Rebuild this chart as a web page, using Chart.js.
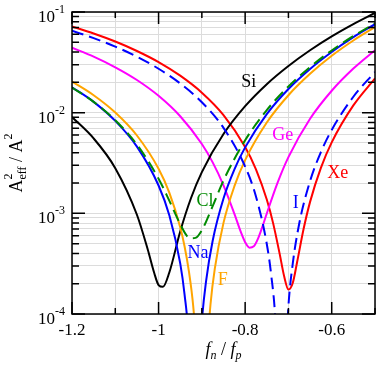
<!DOCTYPE html>
<html>
<head>
<meta charset="utf-8">
<script src="https://cdn.jsdelivr.net/npm/chart.js@4.4.1/dist/chart.umd.min.js"></script>
<style>
  html, body { margin: 0; padding: 0; background: #fff; }
  #chart { display: block; }
</style>
</head>
<body>
<canvas id="chart" width="378" height="366"></canvas>
<script>
// values, y = A_eff^2 / A^2
const siX = [-1.2, -1.15, -1.1, -1.05, -1.025, -1.01, -1.0, -0.99, -0.975, -0.95, -0.925, -0.9, -0.85, -0.8, -0.75, -0.7, -0.65, -0.6, -0.55, -0.5];
const siY = [0.00905, 0.00555, 0.00281, 0.000968, 0.000437, 0.000255, 0.000194, 0.000186, 0.00026, 0.000661, 0.00142, 0.00257, 0.00613, 0.0116, 0.0192, 0.0291, 0.0417, 0.0573, 0.0759, 0.098];

const geX = [-1.2, -1.15, -1.1, -1.05, -1.0, -0.95, -0.9, -0.875, -0.85, -0.825, -0.81, -0.8, -0.79, -0.78, -0.77, -0.76, -0.75, -0.725, -0.7, -0.65, -0.6, -0.55, -0.5];
const geY = [0.0442, 0.0360, 0.0282, 0.0211, 0.0147, 0.00921, 0.00488, 0.00321, 0.0019, 0.000993, 0.000653, 0.000517, 0.000456, 0.00047, 0.000564, 0.000739, 0.000997, 0.00202, 0.00362, 0.0087, 0.0165, 0.0274, 0.0417];

const xeX = [-1.2, -1.15, -1.1, -1.05, -1.0, -0.95, -0.9, -0.85, -0.8, -0.775, -0.75, -0.735, -0.72, -0.71, -0.7, -0.69, -0.68, -0.665, -0.65, -0.625, -0.6, -0.55, -0.5];
const xeY = [0.0718, 0.0612, 0.0509, 0.0410, 0.0318, 0.0233, 0.0158, 0.00947, 0.00457, 0.00274, 0.00137, 0.000786, 0.000391, 0.000238, 0.000175, 0.000203, 0.000327, 0.000698, 0.0013, 0.00283, 0.00507, 0.0118, 0.0219];

const iX = [-1.2, -1.15, -1.1, -1.05, -1.0, -0.95, -0.9, -0.85, -0.8, -0.775, -0.75, -0.74, -0.73, -0.72, -0.71, -0.7, -0.69, -0.675, -0.65, -0.625, -0.6, -0.55, -0.5];
const iY = [0.0651, 0.0550, 0.0453, 0.0360, 0.0273, 0.0195, 0.0127, 0.00706, 0.00291, 0.00147, 0.000496, 0.000248, 0.0000842, 0.0000064, 0.0000174, 0.00012, 0.000316, 0.000792, 0.00209, 0.00406, 0.00674, 0.0144, 0.0254];

const clX = [-1.2, -1.15, -1.1, -1.05, -1.0, -0.975, -0.95, -0.935, -0.925, -0.915, -0.9, -0.875, -0.85, -0.8, -0.75, -0.7, -0.65, -0.6, -0.55, -0.5];
const clY = [0.0178, 0.0128, 0.0084, 0.00482, 0.00221, 0.00133, 0.00078, 0.0006, 0.000565, 0.00057, 0.00068, 0.00118, 0.00212, 0.00532, 0.0106, 0.0182, 0.0284, 0.0415, 0.0577, 0.0772];

const naX = [-1.2, -1.15, -1.1, -1.05, -1.0, -0.975, -0.95, -0.94, -0.93, -0.92, -0.91, -0.9, -0.89, -0.875, -0.85, -0.825, -0.8, -0.75, -0.7, -0.65, -0.6, -0.55, -0.5];
const naY = [0.0179, 0.0128, 0.00828, 0.0046, 0.00189, 0.00095, 0.000318, 0.000157, 0.0000519, 0.0000032, 0.0000132, 0.0000836, 0.000216, 0.000535, 0.001405, 0.00272, 0.00452, 0.00968, 0.0172, 0.0272, 0.0401, 0.0562, 0.0756];

const fX = [-1.2, -1.15, -1.1, -1.05, -1.0, -0.975, -0.95, -0.94, -0.93, -0.92, -0.91, -0.9, -0.89, -0.88, -0.87, -0.85, -0.825, -0.8, -0.75, -0.7, -0.65, -0.6, -0.55, -0.5];
const fY = [0.0204, 0.0149, 0.01003, 0.00593, 0.00277, 0.0016, 0.000728, 0.000471, 0.000267, 0.00012, 0.0000303, 0.000003, 0.0000309, 0.000125, 0.000284, 0.000804, 0.00185, 0.00338, 0.00798, 0.0149, 0.0243, 0.0367, 0.0521, 0.0709];

// curve labels (data coords of the text centre)
const tagNames = ['Si', 'Ge', 'Xe', 'I', 'Cl', 'Na', 'F'];
const tagX = [-0.7915, -0.713, -0.586, -0.683, -0.893, -0.909, -0.8515];
const tagY = [0.0207, 0.00607, 0.0026, 0.0013, 0.00136, 0.000413, 0.000223];
const tagColors = ['#000000', '#ff00ff', '#ff0000', '#0000ff', '#008b00', '#0000ff', '#ffa500'];

// axes
const xGrid = [-1.2, -1.1, -1.0, -0.9, -0.8, -0.7, -0.6, -0.5];
const xLabelVals = [-1.2, -1.0, -0.8, -0.6];
const xLabelText = ['-1.2', '-1', '-0.8', '-0.6'];
const yDecades = [1e-4, 1e-3, 1e-2, 1e-1];
const yLabelExp = ['-4', '-3', '-2', '-1'];

const SERIF = "'Liberation Serif', 'Times New Roman', serif";

let yMinor = [];
for (let i = 0; i < yDecades.length - 1; i++) {
    for (let m = 2; m <= 9; m++) yMinor.push(m * yDecades[i]);
}
const yGrid = yDecades.concat(yMinor).sort((a, b) => a - b);

function pts(xs, ys) {
    return xs.map((x, i) => ({ x: x, y: ys[i] }));
}

function curve(xs, ys, color, dashed) {
    return {
        data: pts(xs, ys),
        borderColor: color,
        borderWidth: 2,
        borderDash: dashed ? [12, 6] : [],
        pointRadius: 0,
        fill: false,
        cubicInterpolationMode: 'monotone'
    };
}

// draws a run of text pieces, each piece {t, font, dy, skip}
function richText(ctx, pieces, x, y, align) {
    let total = 0;
    pieces.forEach(p => {
        ctx.font = p.font;
        p.w = ctx.measureText(p.t).width;
        if (!p.skip) total += p.adv !== undefined ? p.adv : p.w;
    });
    let cx = align === 'center' ? x - total / 2 : x;
    ctx.textAlign = 'left';
    ctx.textBaseline = 'alphabetic';
    pieces.forEach(p => {
        ctx.font = p.font;
        ctx.fillText(p.t, cx, y + (p.dy || 0));
        if (!p.skip) cx += p.adv !== undefined ? p.adv : p.w;
    });
}

const framePlugin = {
    id: 'frame',
    afterDraw(chart) {
        const ctx = chart.ctx;
        const a = chart.chartArea;
        const sx = chart.scales.x;
        const sy = chart.scales.y;
        ctx.save();

        // curve tags
        ctx.textAlign = 'center';
        ctx.textBaseline = 'alphabetic';
        ctx.font = '18px ' + SERIF;
        tagNames.forEach((t, i) => {
            ctx.fillStyle = tagColors[i];
            ctx.fillText(t, sx.getPixelForValue(tagX[i]), sy.getPixelForValue(tagY[i]) + 6);
        });

        // frame
        ctx.strokeStyle = '#000';
        ctx.lineWidth = 1.5;
        ctx.strokeRect(a.left, a.top, a.right - a.left, a.bottom - a.top);

        // inward ticks on all four sides
        ctx.beginPath();
        xGrid.forEach(v => {
            const px = sx.getPixelForValue(v);
            const len = xLabelVals.some(u => Math.abs(u - v) < 1e-9) ? 12 : 6;
            ctx.moveTo(px, a.bottom); ctx.lineTo(px, a.bottom - len);
            ctx.moveTo(px, a.top); ctx.lineTo(px, a.top + len);
        });
        yGrid.forEach(v => {
            const py = sy.getPixelForValue(v);
            const len = yDecades.some(u => Math.abs(u / v - 1) < 1e-6) ? 13 : 7;
            ctx.moveTo(a.left, py); ctx.lineTo(a.left + len, py);
            ctx.moveTo(a.right, py); ctx.lineTo(a.right - len, py);
        });
        ctx.stroke();

        // tick labels
        ctx.fillStyle = '#000';
        ctx.font = '17px ' + SERIF;
        ctx.textAlign = 'center';
        ctx.textBaseline = 'alphabetic';
        xLabelVals.forEach((v, i) => {
            ctx.fillText(xLabelText[i], sx.getPixelForValue(v), a.bottom + 21);
        });
        yDecades.forEach((v, i) => {
            const py = sy.getPixelForValue(v);
            ctx.font = '17px ' + SERIF;
            ctx.textAlign = 'right';
            ctx.fillText('10', a.left - 17, py + 10);
            ctx.font = '12px ' + SERIF;
            ctx.textAlign = 'left';
            ctx.fillText(yLabelExp[i], a.left - 17, py + 1);
        });

        // x title: f_n / f_p
        const it = 'italic 18px ' + SERIF, itS = 'italic 12px ' + SERIF, rg = '18px ' + SERIF;
        richText(ctx, [
            { t: 'f', font: it },
            { t: 'n', font: itS, dy: 4 },
            { t: ' / ', font: rg },
            { t: 'f', font: it },
            { t: 'p', font: itS, dy: 4 }
        ], (a.left + a.right) / 2, 355, 'center');

        // y title: A_eff^2 / A^2, rotated
        ctx.translate(22, (a.top + a.bottom) / 2);
        ctx.rotate(-Math.PI / 2);
        ctx.font = '12px ' + SERIF;
        const effW = ctx.measureText('eff').width;
        richText(ctx, [
            { t: 'A', font: rg },
            { t: '2', font: '12px ' + SERIF, dy: -10, skip: true },
            { t: 'eff', font: '12px ' + SERIF, dy: 4, adv: effW },
            { t: ' / ', font: rg },
            { t: 'A', font: rg },
            { t: '2', font: '12px ' + SERIF, dy: -10 }
        ], 0, 0, 'center');

        ctx.restore();
    }
};

new Chart(document.getElementById('chart'), {
    type: 'line',
    data: {
        datasets: [
            curve(clX, clY, '#008b00', true),
            curve(iX, iY, '#0000ff', true),
            curve(naX, naY, '#0000ff', false),
            curve(fX, fY, '#ffa500', false),
            curve(siX, siY, '#000000', false),
            curve(geX, geY, '#ff00ff', false),
            curve(xeX, xeY, '#ff0000', false)
        ]
    },
    options: {
        responsive: false,
        animation: false,
        devicePixelRatio: 1,
        layout: { padding: { left: 72, top: 12, right: 3, bottom: 52 } },
        plugins: { legend: { display: false }, tooltip: { enabled: false } },
        scales: {
            x: {
                type: 'linear',
                min: -1.2,
                max: -0.5,
                afterBuildTicks: s => { s.ticks = xGrid.map(v => ({ value: v })); },
                ticks: { display: false },
                grid: { color: '#dcdcdc', lineWidth: 1, drawTicks: false },
                border: { display: false }
            },
            y: {
                type: 'logarithmic',
                min: 1e-4,
                max: 1e-1,
                afterBuildTicks: s => { s.ticks = yGrid.map(v => ({ value: v })); },
                ticks: { display: false },
                grid: { color: '#dcdcdc', lineWidth: 1, drawTicks: false },
                border: { display: false }
            }
        }
    },
    plugins: [framePlugin]
});
</script>
</body>
</html>
